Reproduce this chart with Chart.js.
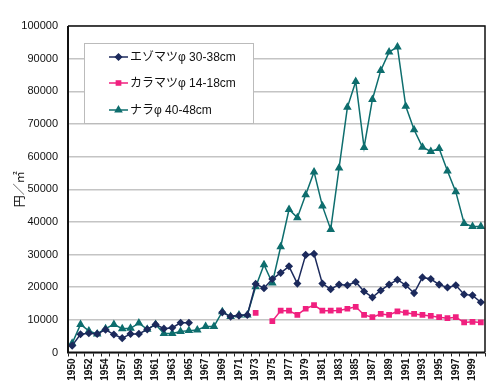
<!DOCTYPE html>
<html>
<head>
<meta charset="utf-8">
<script src="https://cdn.jsdelivr.net/npm/chart.js@4"></script>
<style>
  html, body { margin: 0; padding: 0; background: #fff; }
  #wrap { width: 500px; height: 389px; }
</style>
</head>
<body>
<div id="wrap"><canvas id="c" width="500" height="389"></canvas></div>
<script>
// 年（1955年は欠測）
const years = [1950, 1951, 1952, 1953, 1954, 1956, 1957, 1958, 1959, 1960,
   1961, 1962, 1963, 1964, 1965, 1966, 1967, 1968, 1969, 1970,
   1971, 1972, 1973, 1974, 1975, 1976, 1977, 1978, 1979, 1980,
   1981, 1982, 1983, 1984, 1985, 1986, 1987, 1988, 1989, 1990,
   1991, 1992, 1993, 1994, 1995, 1996, 1997, 1998, 1999, 2000];

// エゾマツ φ30-38cm
const ezomatsu = [2100, 5600, 5900, 5700, 7000, 5500, 4400, 5700, 5700, 7100,
   8600, 7300, 7600, 9100, 9100, null, null, null, 12300, 11000,
   11300, 11500, 21000, 19700, 22500, 24400, 26400, 21100, 29900, 30200,
   21100, 19400, 20800, 20600, 21600, 18700, 16900, 19000, 20800, 22300,
   20600, 18200, 23000, 22500, 20800, 19900, 20600, 17800, 17500, 15400];

// カラマツ φ14-18cm
const karamatsu = [null, null, null, null, null, null, null, null, null, null,
   null, null, null, null, null, null, null, null, null, null,
   null, null, 12100, null, 9600, 12800, 12800, 11500, 13400, 14500,
   12800, 12800, 12900, 13400, 14000, 11500, 10800, 11800, 11500, 12600,
   12200, 11800, 11500, 11200, 10800, 10500, 10800, 9200, 9400, 9200];

// ナラ φ40-48cm
const nara = [2800, 8600, 6600, 5700, 7300, 8600, 7300, 7400, 9000, 7100,
   8600, 5800, 5800, 6400, 6700, 6900, 8000, 8000, 12500, 11000,
   11500, 11500, 20100, 26900, 21300, 32400, 43800, 41300, 48300, 55300,
   44900, 37700, 56500, 75100, 83000, 62800, 77500, 86400, 92000, 93600,
   75400, 68200, 62900, 61600, 62500, 55600, 49200, 39500, 38600, 38600];

const yTicks = [0, 10000, 20000, 30000, 40000, 50000, 60000, 70000, 80000, 90000, 100000];

const seriesNames = ["エゾマツφ 30-38cm", "カラマツφ 14-18cm", "ナラφ 40-48cm"];

const FONT = "'Liberation Sans', 'Noto Sans CJK JP', sans-serif";
const JP_FONT = "'Noto Sans CJK JP', sans-serif";

// 枠線と凡例（プロット内）
const framePlugin = {
   id: "frame",
   afterDraw(chart) {
      const { ctx, chartArea: a } = chart;
      ctx.save();
      ctx.strokeStyle = "#111";
      ctx.lineWidth = 1.5;
      ctx.beginPath();
      ctx.moveTo(a.left, a.top);
      ctx.lineTo(a.right, a.top);
      ctx.lineTo(a.right, a.bottom);
      ctx.stroke();
      ctx.lineWidth = 2;
      ctx.beginPath();
      ctx.moveTo(a.left, a.top);
      ctx.lineTo(a.left, a.bottom);
      ctx.lineTo(a.right, a.bottom);
      ctx.stroke();

      // 凡例
      const bx = 84, by = 43, bw = 169, bh = 80;
      ctx.fillStyle = "#fff";
      ctx.fillRect(bx, by, bw, bh);
      ctx.strokeStyle = "#bbb";
      ctx.lineWidth = 1;
      ctx.strokeRect(bx + 0.5, by + 0.5, bw, bh);

      const rows = [57, 83, 110];
      chart.data.datasets.forEach((ds, i) => {
         const y = rows[i];
         ctx.strokeStyle = ds.borderColor;
         ctx.lineWidth = 1.5;
         ctx.beginPath();
         ctx.moveTo(109, y);
         ctx.lineTo(128, y);
         ctx.stroke();
         ctx.fillStyle = ds.pointBackgroundColor;
         ctx.strokeStyle = ds.pointBorderColor;
         Chart.helpers.drawPoint(ctx, {
            pointStyle: ds.pointStyle,
            radius: ds.pointRadius,
            rotation: 0,
            borderWidth: 1,
         }, 118.5, y);
         ctx.fillStyle = "#111";
         ctx.font = "12px " + FONT;
         ctx.textBaseline = "middle";
         ctx.textAlign = "left";
         ctx.fillText(ds.label, 130, y + 1);
      });
      ctx.restore();
   },
};

const ctx = document.getElementById("c").getContext("2d");

new Chart(ctx, {
   type: "line",
   data: {
      labels: years,
      datasets: [
         {
            label: seriesNames[0],
            data: ezomatsu,
            borderColor: "#1c2a5c",
            pointBackgroundColor: "#1c2a5c",
            pointBorderColor: "#1c2a5c",
            pointStyle: "rectRot",
            pointRadius: 3,
            borderWidth: 1.5,
            tension: 0,
         },
         {
            label: seriesNames[1],
            data: karamatsu,
            borderColor: "#f0207f",
            pointBackgroundColor: "#f0207f",
            pointBorderColor: "#f0207f",
            pointStyle: "rect",
            pointRadius: 3,
            borderWidth: 1.5,
            tension: 0,
         },
         {
            label: seriesNames[2],
            data: nara,
            borderColor: "#0e6e6e",
            pointBackgroundColor: "#0e6e6e",
            pointBorderColor: "#0e6e6e",
            pointStyle: "triangle",
            pointRadius: 3.5,
            borderWidth: 1.5,
            tension: 0,
         },
      ],
   },
   options: {
      responsive: false,
      animation: false,
      spanGaps: false,
      layout: { padding: { top: 26, right: 15, left: 0, bottom: 0 } },
      plugins: {
         legend: { display: false },
         tooltip: { enabled: false },
      },
      scales: {
         x: {
            offset: true,
            grid: {
               offset: true,
               drawOnChartArea: false,
               color: "#222",
               tickLength: 4,
            },
            border: { display: false },
            ticks: {
               autoSkip: false,
               minRotation: 90,
               maxRotation: 90,
               padding: 2,
               color: "#111",
               font: { size: 10, weight: "bold", family: FONT },
               callback: function (value, index) {
                  return index % 2 === 0 ? String(years[index]) : "";
               },
            },
            afterFit(scale) { scale.height = 36.5; },
         },
         y: {
            min: 0,
            max: 100000,
            afterBuildTicks(scale) {
               scale.ticks = yTicks.map(v => ({ value: v }));
            },
            grid: {
               color: "#c4c4c4",
               lineWidth: 1.5,
               drawTicks: false,
            },
            border: { display: false },
            ticks: {
               padding: 10,
               color: "#111",
               font: { size: 11, family: FONT },
               callback: v => String(v),
            },
            title: {
               display: true,
               text: "円／㎡",
               color: "#111",
               font: { size: 12, family: JP_FONT },
               padding: { top: 12, bottom: 0 },
            },
            afterFit(scale) { scale.width = 68; },
         },
      },
   },
   plugins: [framePlugin],
});
</script>
</body>
</html>
